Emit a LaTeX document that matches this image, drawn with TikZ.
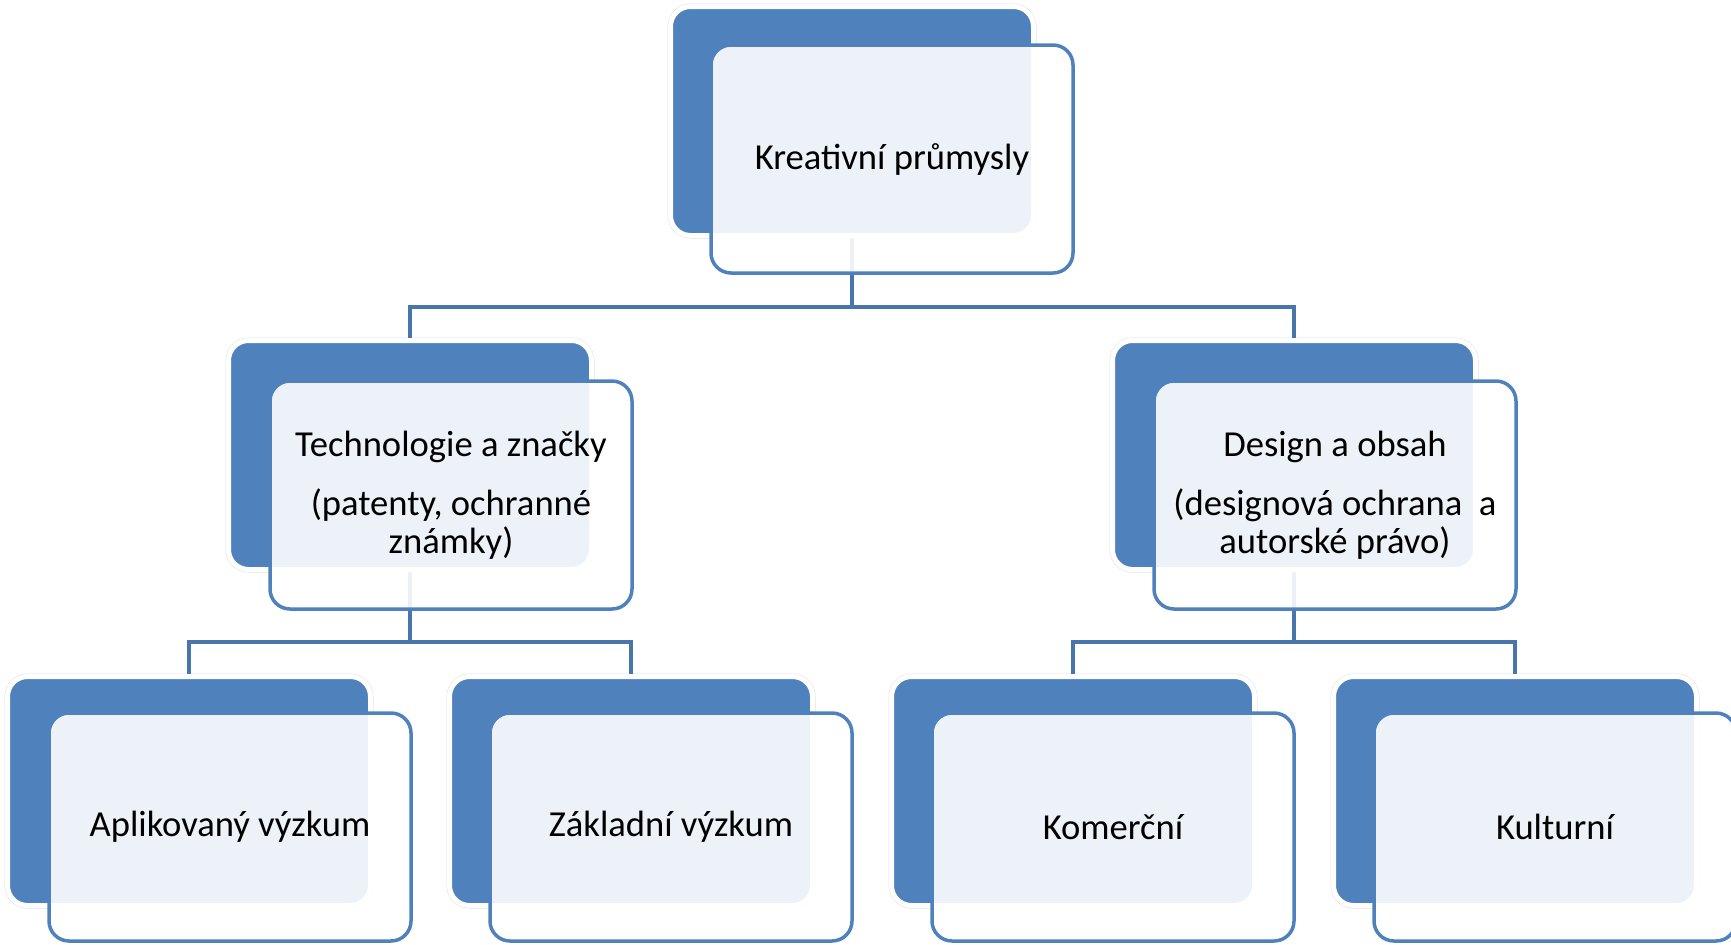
\documentclass[tikz,border=0pt]{standalone}
\usepackage{fontspec}
\setmainfont{Carlito}
\definecolor{accent}{RGB}{79,129,189}
\definecolor{linkc}{RGB}{72,118,172}
\begin{document}
\begin{tikzpicture}[x=0.5pt, y=-0.5pt,
back/.style={rectangle, rounded corners=10pt, fill=accent, draw=white, line width=2.5pt, preaction={draw=black!12, line width=3pt}, minimum width=181.5pt, minimum height=114.5pt, inner sep=0pt},
front/.style={rectangle, rounded corners=10pt, draw=accent, line width=1.75pt, fill=white, fill opacity=0.9, text opacity=1, minimum width=181pt, minimum height=114pt, align=center, inner sep=2pt, font=\fontsize{18.3}{19}\selectfont},
link/.style={draw=linkc, line width=2pt}]
\useasboundingbox (0,0) rectangle (1731,944);
\node[back] (b0) at (852,121){};
\node[back] (b1) at (410,455){};
\node[back] (b2) at (1294,455){};
\node[back] (b3) at (189,791){};
\node[back] (b4) at (631,791){};
\node[back] (b5) at (1073,791){};
\node[back] (b6) at (1515,791){};
\coordinate (j0) at (852,307);
\coordinate (j1) at (410,642);
\coordinate (j2) at (1294,642);
\draw[link](b0.south) -- (j0) -| (b1.north);
\draw[link](j0) -| (b2.north);
\draw[link](b1.south) -- (j1) -| (b3.north);
\draw[link](j1) -| (b4.north);
\draw[link](b2.south) -- (j2) -| (b5.north);
\draw[link](j2) -| (b6.north);
\node[front] (t0) at (892,159){Kreativní průmysly};
\node[front] (t1) at (451,495){Technologie a značky\\[10.5pt](patenty, ochranné\\známky)};
\node[front] (t2) at (1335,495){Design a obsah\\[10.5pt](designová ochrana\ \ a\\autorské právo)};
\node[front] (t3) at (230,827){Aplikovaný výzkum};
\node[front] (t4) at (671,827){Základní výzkum};
\node[front] (t5) at (1113,827){Komerční};
\node[front] (t6) at (1555,827){Kulturní};
\end{tikzpicture}
\end{document}
